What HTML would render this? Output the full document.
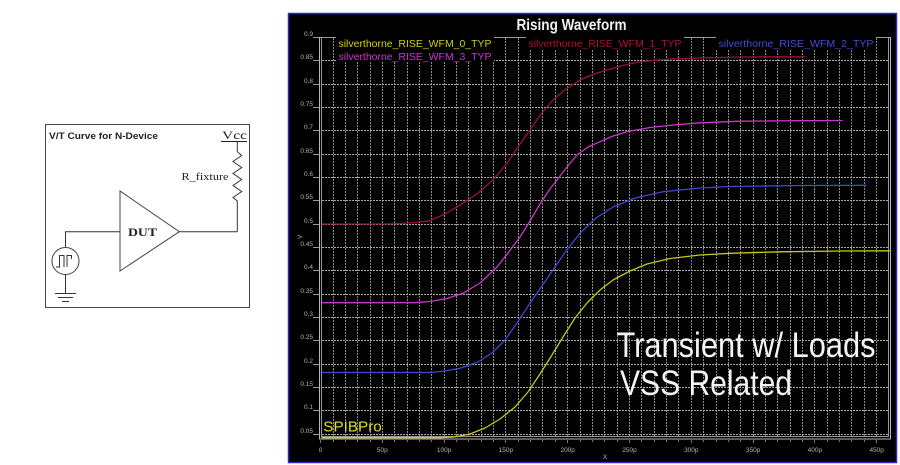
<!DOCTYPE html>
<html>
<head>
<meta charset="utf-8">
<style>
html,body{margin:0;padding:0;background:#fff;}
svg{display:block;}
</style>
</head>
<body>
<svg width="900" height="465" viewBox="0 0 900 465" xmlns="http://www.w3.org/2000/svg">
<rect x="0" y="0" width="900" height="465" fill="#ffffff"/>

<!-- Left circuit diagram -->
<rect x="45.5" y="124.5" width="204" height="183" fill="#fff" stroke="#444" stroke-width="1"/>
<text x="49" y="139" font-family="Liberation Sans, sans-serif" font-size="9" font-weight="bold" fill="#222" textLength="109" lengthAdjust="spacingAndGlyphs">V/T Curve for N-Device</text>
<text x="222" y="139" font-family="Liberation Serif, serif" font-size="12" fill="#222" textLength="25" lengthAdjust="spacingAndGlyphs">Vcc</text>
<line x1="221" y1="141.5" x2="247" y2="141.5" stroke="#222" stroke-width="1"/>
<path d="M237.3 141.5 V151.7 L241.7 155.5 L233 161.5 L241.7 167.5 L233 173.5 L241.7 179.5 L233 185.5 L241.7 191.5 L233 197.5 L237.3 201 V231.7" fill="none" stroke="#333" stroke-width="1"/>
<text x="181.5" y="180" font-family="Liberation Serif, serif" font-size="11" fill="#222" textLength="47" lengthAdjust="spacingAndGlyphs">R_fixture</text>
<path d="M120 191 L179.3 231.7 L120 271 Z" fill="#fff" stroke="#444" stroke-width="1"/>
<text x="128" y="236" font-family="Liberation Serif, serif" font-size="12" font-weight="bold" fill="#222" textLength="29" lengthAdjust="spacingAndGlyphs">DUT</text>
<path d="M179.3 231.7 H237.3" fill="none" stroke="#333" stroke-width="1"/>
<path d="M120 231.7 H65.5 V247.5" fill="none" stroke="#333" stroke-width="1"/>
<circle cx="65.5" cy="261" r="13.5" fill="#fff" stroke="#444" stroke-width="1"/>
<path d="M56 267 H59.5 V255.5 H64 V267 M67 267 V255.5 H71.5 V259" fill="none" stroke="#333" stroke-width="1"/>
<path d="M65.5 274.5 V293" fill="none" stroke="#333" stroke-width="1"/>
<path d="M55 293.5 H76 M58 297.5 H73 M62 301.5 H69" fill="none" stroke="#333" stroke-width="1"/>

<!-- Chart frame -->
<rect x="288.5" y="13.5" width="608" height="449" fill="#000" stroke="#2a2ac8" stroke-width="1.5"/>
<text x="516.5" y="30" font-family="Liberation Sans Narrow, Liberation Sans, sans-serif" font-size="16" font-weight="bold" fill="#f2f2f2" textLength="110" lengthAdjust="spacingAndGlyphs">Rising Waveform</text>

<!-- Grid -->
<path d="M333.5 38V437M345.5 38V437M357.5 38V437M370.5 38V437M382.5 38V437M394.5 38V437M407.5 38V437M419.5 38V437M431.5 38V437M444.5 38V437M456.5 38V437M468.5 38V437M481.5 38V437M493.5 38V437M505.5 38V437M518.5 38V437M530.5 38V437M542.5 38V437M555.5 38V437M567.5 38V437M580.5 38V437M592.5 38V437M604.5 38V437M617.5 38V437M629.5 38V437M641.5 38V437M654.5 38V437M666.5 38V437M678.5 38V437M691.5 38V437M703.5 38V437M716.5 38V437M728.5 38V437M740.5 38V437M753.5 38V437M765.5 38V437M777.5 38V437M790.5 38V437M802.5 38V437M814.5 38V437M827.5 38V437M839.5 38V437M851.5 38V437M864.5 38V437M876.5 38V437" fill="none" stroke="#8a8a8a" stroke-width="1" stroke-dasharray="2,1"/>
<path d="M322 60.5H888M322 84.5H888M322 107.5H888M322 130.5H888M322 154.5H888M322 177.5H888M322 200.5H888M322 224.5H888M322 247.5H888M322 270.5H888M322 294.5H888M322 317.5H888M322 340.5H888M322 364.5H888M322 387.5H888M322 410.5H888M322 434.5H888" fill="none" stroke="#a8a8a8" stroke-width="1" stroke-dasharray="2,1"/>

<!-- plot frame -->
<rect x="319.5" y="37.5" width="571" height="401.5" fill="none" stroke="#b8b8b8" stroke-width="1"/>
<rect x="321.5" y="37.5" width="567" height="399" fill="none" stroke="#9a9a9a" stroke-width="1"/>

<!-- x minor ticks -->
<path d="M320.5 440V443M333.5 440V442M345.5 440V442M357.5 440V442M370.5 440V442M382.5 440V443M394.5 440V442M407.5 440V442M419.5 440V442M431.5 440V442M444.5 440V443M456.5 440V442M468.5 440V442M481.5 440V442M493.5 440V442M505.5 440V443M518.5 440V442M530.5 440V442M542.5 440V442M555.5 440V442M567.5 440V443M580.5 440V442M592.5 440V442M604.5 440V442M617.5 440V442M629.5 440V443M641.5 440V442M654.5 440V442M666.5 440V442M678.5 440V442M691.5 440V443M703.5 440V442M716.5 440V442M728.5 440V442M740.5 440V442M753.5 440V443M765.5 440V442M777.5 440V442M790.5 440V442M802.5 440V442M814.5 440V443M827.5 440V442M839.5 440V442M851.5 440V442M864.5 440V442M876.5 440V443" fill="none" stroke="#777" stroke-width="1"/>

<!-- y tick marks -->
<path d="M313 37.5H319M313 60.5H319M313 84.5H319M313 107.5H319M313 130.5H319M313 154.5H319M313 177.5H319M313 200.5H319M313 224.5H319M313 247.5H319M313 270.5H319M313 294.5H319M313 317.5H319M313 340.5H319M313 364.5H319M313 387.5H319M313 410.5H319M313 434.5H319" fill="none" stroke="#999" stroke-width="1"/>

<!-- y labels -->
<g font-family="Liberation Sans, sans-serif" font-size="6.5" fill="#b5b5b5" text-anchor="end">
<text x="313" y="36">0.9</text>
<text x="313" y="59">0.85</text>
<text x="313" y="83">0.8</text>
<text x="313" y="106">0.75</text>
<text x="313" y="129">0.7</text>
<text x="313" y="153">0.65</text>
<text x="313" y="176">0.6</text>
<text x="313" y="199">0.55</text>
<text x="313" y="223">0.5</text>
<text x="313" y="246">0.45</text>
<text x="313" y="269">0.4</text>
<text x="313" y="293">0.35</text>
<text x="313" y="316">0.3</text>
<text x="313" y="339">0.25</text>
<text x="313" y="363">0.2</text>
<text x="313" y="386">0.15</text>
<text x="313" y="409">0.1</text>
<text x="313" y="433">0.05</text>
</g>
<text x="0" y="0" font-family="Liberation Sans, sans-serif" font-size="6.5" fill="#b5b5b5" transform="translate(302,239) rotate(-90)">V</text>

<!-- x labels -->
<g font-family="Liberation Sans, sans-serif" font-size="6.5" fill="#b5b5b5" text-anchor="middle">
<text x="320.5" y="452">0</text>
<text x="382.3" y="452">50p</text>
<text x="444.1" y="452">100p</text>
<text x="505.9" y="452">150p</text>
<text x="567.7" y="452">200p</text>
<text x="629.5" y="452">250p</text>
<text x="691.3" y="452">300p</text>
<text x="753.1" y="452">350p</text>
<text x="814.9" y="452">400p</text>
<text x="876.7" y="452">450p</text>
<text x="605" y="459">X</text>
</g>

<!-- Legend -->
<rect x="336" y="37" width="158" height="25" fill="#000"/>
<rect x="526" y="37" width="158" height="12" fill="#000"/>
<rect x="716" y="37" width="160" height="12" fill="#000"/>
<g font-family="Liberation Sans, sans-serif" font-size="10.5">
<text x="338.5" y="47" fill="#d0d010" textLength="153" lengthAdjust="spacingAndGlyphs">silverthorne_RISE_WFM_0_TYP</text>
<text x="338.5" y="60" fill="#d030d0" textLength="153" lengthAdjust="spacingAndGlyphs">silverthorne_RISE_WFM_3_TYP</text>
<text x="528.5" y="47" fill="#b01035" textLength="153" lengthAdjust="spacingAndGlyphs">silverthorne_RISE_WFM_1_TYP</text>
<text x="718.5" y="47" fill="#4a4ad8" textLength="155" lengthAdjust="spacingAndGlyphs">silverthorne_RISE_WFM_2_TYP</text>
</g>

<!-- Curves -->
<g fill="none" stroke-width="1.3" stroke-linejoin="round" stroke-linecap="round">
<polyline stroke="#9a1238" points="322,224 385,224 400,223.5 415,222.5 430,220.7 447,213 463,203.3 478,193 493,180 507,163.3 518,147 530,130 541,114 553,100 566,89 580,80 593,74.5 607,70 623,65.5 640,61.7 670,59 700,58 740,57 805,56.8"/>
<polyline stroke="#c838c8" points="322,302.7 415,302.7 430,301.5 447,298.5 463,293.3 480,283 497,267 508,253 520,237 530,221 540,204 550,189 557,180 567,167 577,155 588,147 600,141.7 613,136 627,131.7 650,127.5 673,125 700,122.8 740,121.2 800,120.7 842,120.5"/>
<polyline stroke="#4048d0" points="322,372.5 430,372.5 445,371 461,368 478,362 492,353 505,340 517,323 530,303.3 542,286 553,270 566,251 580,233.3 596,218 613,207 635,198 663,191.7 700,188 730,186.5 800,185.5 866,185.3"/>
<polyline stroke="#c8c818" points="322,437.7 440,437.7 455,436.8 470,434 485,428 500,419 515,407 528,392 540,374 552,355 563,337 575,318 587,303 600,290 613,280 630,271 647,264 670,258.5 700,255 730,253.3 780,251.8 840,251 890,250.8"/>
</g>

<!-- Annotations -->
<text x="323.3" y="431.7" font-family="Liberation Sans, sans-serif" font-size="15" fill="#e0e020" textLength="58.5" lengthAdjust="spacingAndGlyphs">SPIBPro</text>
<text x="616.5" y="357" font-family="Liberation Sans, sans-serif" font-size="35" fill="#f4f4f4" textLength="259" lengthAdjust="spacingAndGlyphs">Transient w/ Loads</text>
<text x="620" y="395" font-family="Liberation Sans, sans-serif" font-size="35" fill="#f4f4f4" textLength="172" lengthAdjust="spacingAndGlyphs">VSS Related</text>
</svg>
</body>
</html>
